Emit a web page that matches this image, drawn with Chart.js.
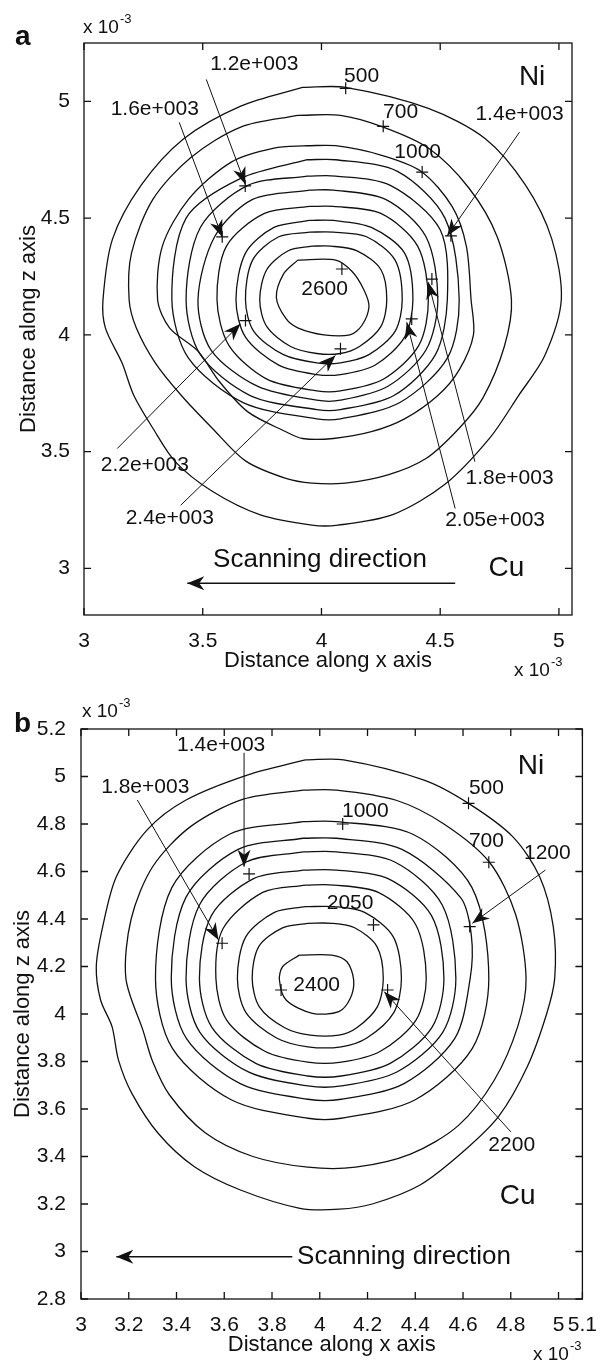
<!DOCTYPE html>
<html>
<head>
<meta charset="utf-8">
<script src="https://cdn.jsdelivr.net/npm/chart.js@4.4.0/dist/chart.umd.min.js"></script>
<style>
  html, body { margin: 0; padding: 0; background: #fff; }
  #wrap { position: relative; width: 603px; height: 1363px; }
  canvas { position: absolute; left: 0; }
  #ca { top: 0; }
  #cb { top: 680px; }
</style>
</head>
<body>
<div id="wrap">
  <canvas id="ca" width="603" height="680"></canvas>
  <canvas id="cb" width="603" height="683"></canvas>
</div>
<script>
// ---------- panel a (values in units of 1e-3) ----------
const levelsA = [500, 700, 1000, 1200, 1400, 1600, 1800, 2050, 2200, 2400, 2600];
const xTicksA = [3, 3.5, 4, 4.5, 5];
const yTicksA = [3, 3.5, 4, 4.5, 5];

const a500 = [[3.92,5.06],[4.10,5.06],[4.45,4.97],[4.69,4.84],[4.86,4.64],[4.97,4.41],[5.01,4.15],[4.94,3.91],[4.83,3.74],[4.71,3.56],[4.52,3.36],[4.30,3.23],[4.07,3.185],[3.96,3.185],[3.74,3.23],[3.54,3.33],[3.385,3.456],[3.29,3.60],[3.21,3.74],[3.16,3.88],[3.09,4.03],[3.08,4.15],[3.12,4.41],[3.24,4.64],[3.42,4.84],[3.66,4.98],[3.92,5.06]];
const a700 = [[3.90,4.94],[4.08,4.94],[4.26,4.89],[4.45,4.80],[4.62,4.63],[4.74,4.42],[4.80,4.15],[4.77,3.95],[4.68,3.73],[4.58,3.60],[4.44,3.47],[4.28,3.40],[4.10,3.365],[3.96,3.365],[3.85,3.385],[3.68,3.46],[3.54,3.60],[3.41,3.74],[3.30,3.88],[3.22,4.03],[3.19,4.15],[3.20,4.35],[3.29,4.58],[3.45,4.76],[3.66,4.89],[3.90,4.94]];
const a1000 = [[3.94,4.81],[4.06,4.81],[4.25,4.77],[4.42,4.70],[4.55,4.55],[4.61,4.38],[4.63,4.15],[4.64,4.00],[4.58,3.85],[4.49,3.74],[4.35,3.64],[4.21,3.585],[4.05,3.556],[3.92,3.556],[3.85,3.585],[3.69,3.67],[3.57,3.80],[3.48,3.93],[3.36,4.03],[3.31,4.15],[3.33,4.38],[3.44,4.58],[3.62,4.74],[3.80,4.80],[3.94,4.81]];
const a1200 = [[3.94,4.75],[4.06,4.75],[4.32,4.70],[4.52,4.50],[4.58,4.15],[4.53,3.90],[4.33,3.71],[4.08,3.64],[3.98,3.64],[3.67,3.71],[3.44,3.90],[3.37,4.15],[3.43,4.50],[3.66,4.67],[3.94,4.75]];
const a1400 = [[3.94,4.68],[4.06,4.68],[4.29,4.64],[4.50,4.45],[4.53,4.15],[4.48,3.915],[4.305,3.74],[4.08,3.68],[3.98,3.68],[3.70,3.74],[3.49,3.915],[3.43,4.15],[3.49,4.46],[3.69,4.64],[3.94,4.68]];
const a1600 = [[3.95,4.62],[4.05,4.62],[4.27,4.58],[4.44,4.42],[4.49,4.15],[4.44,3.935],[4.28,3.78],[4.08,3.72],[3.98,3.72],[3.73,3.78],[3.535,3.935],[3.48,4.15],[3.55,4.42],[3.71,4.58],[3.95,4.62]];
const a1800 = [[3.95,4.55],[4.05,4.55],[4.25,4.52],[4.405,4.38],[4.45,4.15],[4.41,3.955],[4.26,3.81],[4.08,3.76],[3.98,3.76],[3.77,3.81],[3.61,3.955],[3.56,4.15],[3.60,4.38],[3.76,4.52],[3.95,4.55]];
const a2050 = [[3.95,4.49],[4.05,4.49],[4.21,4.46],[4.35,4.35],[4.385,4.15],[4.35,3.99],[4.225,3.87],[4.08,3.83],[3.98,3.83],[3.82,3.87],[3.68,3.99],[3.64,4.15],[3.68,4.35],[3.80,4.46],[3.95,4.49]];
const a2200 = [[3.95,4.44],[4.05,4.44],[4.19,4.42],[4.31,4.32],[4.34,4.15],[4.31,4.015],[4.20,3.915],[4.08,3.88],[3.98,3.88],[3.84,3.915],[3.715,4.015],[3.68,4.15],[3.71,4.32],[3.82,4.42],[3.95,4.44]];
const a2400 = [[3.96,4.38],[4.04,4.38],[4.15,4.36],[4.25,4.28],[4.275,4.15],[4.25,4.035],[4.16,3.95],[4.08,3.92],[3.98,3.92],[3.87,3.95],[3.77,4.035],[3.74,4.15],[3.77,4.28],[3.86,4.36],[3.96,4.38]];
const a2600 = [[3.90,4.32],[4.06,4.32],[4.13,4.27],[4.18,4.19],[4.20,4.12],[4.17,4.04],[4.12,4.00],[4.01,4.00],[3.90,4.03],[3.85,4.07],[3.81,4.16],[3.84,4.26],[3.90,4.32]];

const marksA = [[4.102,5.056],[4.26,4.893],[4.424,4.697],[4.086,4.282],[3.679,4.638],[3.582,4.42],[4.545,4.424],[4.465,4.239],[4.38,4.068],[3.68,4.061],[4.08,3.94]];

const notesA = [
  { text: '1.2e+003', at: [3.717, 5.158], from: [3.515, 5.094], to: [3.679, 4.645] },
  { text: '1.6e+003', at: [3.298, 4.966], from: [3.401, 4.910], to: [3.582, 4.419] },
  { text: '1.4e+003', at: [4.834, 4.944], from: [4.834, 4.868], to: [4.529, 4.423] },
  { text: '1.8e+003', at: [4.792, 3.385], from: [4.646, 3.457], to: [4.450, 4.225] },
  { text: '2.05e+003', at: [4.731, 3.206], from: [4.563, 3.256], to: [4.359, 4.054] },
  { text: '2.2e+003', at: [3.256, 3.441], from: [3.140, 3.513], to: [3.659, 4.047] },
  { text: '2.4e+003', at: [3.361, 3.214], from: [3.407, 3.270], to: [4.059, 3.912] },
  { text: '500', at: [4.169, 5.107] },
  { text: '700', at: [4.333, 4.953] },
  { text: '1000', at: [4.405, 4.782] },
  { text: '2600', at: [4.013, 4.197] }
];

// ---------- panel b ----------
const levelsB = [500, 700, 1000, 1200, 1400, 1600, 1800, 2050, 2200, 2400];
const xTicksB = [3, 3.2, 3.4, 3.6, 3.8, 4, 4.2, 4.4, 4.6, 4.8, 5, 5.1];
const yTicksB = [2.8, 3, 3.2, 3.4, 3.6, 3.8, 4, 4.2, 4.4, 4.6, 4.8, 5, 5.2];

const b500 = [[3.94,5.07],[4.10,5.07],[4.437,4.985],[4.623,4.887],[4.808,4.747],[4.921,4.578],[4.978,4.368],[4.984,4.15],[4.95,4.0],[4.87,3.78],[4.75,3.57],[4.60,3.42],[4.42,3.28],[4.22,3.20],[4.082,3.178],[3.917,3.182],[3.668,3.259],[3.475,3.357],[3.323,3.498],[3.213,3.666],[3.157,3.806],[3.13,3.947],[3.082,4.059],[3.064,4.20],[3.091,4.368],[3.148,4.578],[3.277,4.775],[3.438,4.90],[3.696,5.006],[3.94,5.07]];
const b700 = [[3.93,4.943],[4.07,4.943],[4.32,4.90],[4.52,4.80],[4.71,4.64],[4.82,4.42],[4.864,4.15],[4.83,3.95],[4.73,3.72],[4.58,3.53],[4.38,3.41],[4.15,3.355],[3.95,3.355],[3.72,3.40],[3.52,3.50],[3.37,3.66],[3.30,3.80],[3.26,3.93],[3.188,4.15],[3.21,4.40],[3.30,4.62],[3.46,4.79],[3.68,4.905],[3.93,4.943]];
const b1000 = [[3.93,4.81],[4.07,4.81],[4.39,4.757],[4.637,4.533],[4.708,4.15],[4.639,3.855],[4.398,3.638],[4.09,3.561],[3.95,3.561],[3.631,3.638],[3.383,3.855],[3.312,4.15],[3.381,4.533],[3.622,4.757],[3.93,4.81]];
const b1200 = [[3.93,4.74],[4.07,4.74],[4.344,4.693],[4.59,4.49],[4.635,4.33],[4.63,4.15],[4.565,3.896],[4.353,3.707],[4.09,3.641],[3.95,3.641],[3.667,3.707],[3.442,3.896],[3.378,4.15],[3.44,4.492],[3.658,4.693],[3.93,4.74]];
const b1400 = [[3.93,4.683],[4.07,4.683],[4.314,4.64],[4.513,4.459],[4.57,4.15],[4.515,3.923],[4.323,3.756],[4.09,3.697],[3.95,3.697],[3.701,3.756],[3.498,3.923],[3.44,4.15],[3.496,4.459],[3.692,4.64],[3.93,4.683]];
const b1600 = [[3.93,4.606],[4.07,4.606],[4.286,4.57],[4.468,4.414],[4.52,4.15],[4.47,3.944],[4.295,3.792],[4.09,3.739],[3.95,3.739],[3.732,3.792],[3.548,3.944],[3.496,4.15],[3.546,4.414],[3.723,4.57],[3.93,4.606]];
const b1800 = [[3.94,4.543],[4.06,4.543],[4.245,4.512],[4.401,4.378],[4.446,4.15],[4.403,3.974],[4.254,3.843],[4.09,3.797],[3.95,3.797],[3.77,3.843],[3.61,3.974],[3.565,4.15],[3.595,4.36],[3.761,4.512],[3.94,4.543]];
const b2050 = [[3.94,4.452],[4.06,4.452],[4.188,4.428],[4.308,4.325],[4.342,4.15],[4.31,4.006],[4.197,3.899],[4.09,3.862],[3.95,3.862],[3.819,3.899],[3.691,4.006],[3.655,4.15],[3.69,4.325],[3.81,4.428],[3.94,4.452]];
const b2200 = [[3.95,4.382],[4.05,4.382],[4.146,4.363],[4.239,4.285],[4.266,4.15],[4.241,4.03],[4.155,3.942],[4.08,3.911],[3.96,3.911],[3.853,3.942],[3.747,4.03],[3.717,4.15],[3.745,4.285],[3.844,4.363],[3.95,4.382]];
const b2400 = [[3.914,4.248],[4.05,4.248],[4.114,4.22],[4.142,4.143],[4.128,4.066],[4.08,4.01],[3.969,4.003],[3.859,4.059],[3.831,4.143],[3.845,4.20],[3.914,4.248]];

const marksB = [[4.623,4.887],[4.708,4.639],[4.096,4.80],[4.225,4.375],[3.838,4.101],[3.704,4.59],[3.591,4.298],[4.628,4.368],[4.284,4.101]];

const notesB = [
  { text: '1.4e+003', at: [3.587, 5.133], from: [3.683, 5.10], to: [3.683, 4.62] },
  { text: '1.8e+003', at: [3.269, 4.957], from: [3.236, 4.901], to: [3.576, 4.312] },
  { text: '1200', at: [4.953, 4.679], from: [4.945, 4.606], to: [4.639, 4.382] },
  { text: '2200', at: [4.804, 3.448], from: [4.80, 3.504], to: [4.27, 4.094] },
  { text: '500', at: [4.698, 4.952] },
  { text: '700', at: [4.698, 4.726] },
  { text: '1000', at: [4.191, 4.852] },
  { text: '2050', at: [4.127, 4.467] },
  { text: '2400', at: [3.987, 4.122] }
];

// ---------- drawing ----------
const FONT = '"Liberation Sans", Arial, Helvetica, sans-serif';
const INK = '#111';

function toPts(arr) { return arr.map(p => ({ x: p[0], y: p[1] })); }

function arrowHead(ctx, x0, y0, x1, y1, len, half) {
  const a = Math.atan2(y1 - y0, x1 - x0);
  const c = Math.cos(a), s = Math.sin(a);
  ctx.beginPath();
  ctx.moveTo(x1, y1);
  ctx.lineTo(x1 - len * c + half * s, y1 - len * s - half * c);
  ctx.lineTo(x1 - len * 0.7 * c, y1 - len * 0.7 * s);
  ctx.lineTo(x1 - len * c - half * s, y1 - len * s + half * c);
  ctx.closePath();
  ctx.fill();
}

function drawExp(ctx, x, y) {
  ctx.textAlign = 'left';
  ctx.textBaseline = 'alphabetic';
  ctx.font = '19px ' + FONT;
  ctx.fillText('x 10', x, y);
  const w = ctx.measureText('x 10').width;
  ctx.font = '13px ' + FONT;
  ctx.fillText('-3', x + w + 1, y - 10);
}

function figurePlugin(o) {
  return {
    id: 'figure' + o.id,
    afterDraw(chart) {
      const { ctx, chartArea: ca, scales: { x, y } } = chart;
      const X = v => x.getPixelForValue(v);
      const Y = v => y.getPixelForValue(v);
      ctx.save();
      ctx.strokeStyle = INK;
      ctx.fillStyle = INK;

      // frame with inward ticks on all sides
      ctx.lineWidth = 1.3;
      ctx.strokeRect(ca.left, ca.top, ca.right - ca.left, ca.bottom - ca.top);
      ctx.beginPath();
      x.ticks.forEach(t => {
        const px = X(t.value);
        ctx.moveTo(px, ca.bottom); ctx.lineTo(px, ca.bottom - 7);
        ctx.moveTo(px, ca.top); ctx.lineTo(px, ca.top + 7);
      });
      y.ticks.forEach(t => {
        const py = Y(t.value);
        ctx.moveTo(ca.left, py); ctx.lineTo(ca.left + 7, py);
        ctx.moveTo(ca.right, py); ctx.lineTo(ca.right - 7, py);
      });
      ctx.stroke();

      // contour labels with pointer arrows
      ctx.lineWidth = 1;
      ctx.font = '21px ' + FONT;
      ctx.textAlign = 'center';
      ctx.textBaseline = 'middle';
      o.notes.forEach(n => {
        if (n.from) {
          const x0 = X(n.from[0]), y0 = Y(n.from[1]);
          const x1 = X(n.to[0]), y1 = Y(n.to[1]);
          ctx.beginPath(); ctx.moveTo(x0, y0); ctx.lineTo(x1, y1); ctx.stroke();
          arrowHead(ctx, x0, y0, x1, y1, 17, 6.5);
        }
        ctx.fillText(n.text, X(n.at[0]), Y(n.at[1]));
      });

      // Ni / Cu
      ctx.font = '28px ' + FONT;
      ctx.fillText('Ni', X(o.ni[0]), Y(o.ni[1]));
      ctx.fillText('Cu', X(o.cu[0]), Y(o.cu[1]));

      // scanning direction
      ctx.font = '26px ' + FONT;
      ctx.fillText('Scanning direction', X(o.scanText[0]), Y(o.scanText[1]));
      const sx0 = X(o.scan[0][0]), sy0 = Y(o.scan[0][1]);
      const sx1 = X(o.scan[1][0]), sy1 = Y(o.scan[1][1]);
      ctx.lineWidth = 1.3;
      ctx.beginPath(); ctx.moveTo(sx0, sy0); ctx.lineTo(sx1, sy1); ctx.stroke();
      arrowHead(ctx, sx0, sy0, sx1, sy1, 17, 7);

      // exponent markers and panel letter
      drawExp(ctx, o.expTop[0], o.expTop[1]);
      drawExp(ctx, o.expBottom[0], o.expBottom[1]);
      ctx.font = 'bold 28px ' + FONT;
      ctx.textAlign = 'left';
      ctx.textBaseline = 'alphabetic';
      ctx.fillText(o.letter, o.letterAt[0], o.letterAt[1]);
      ctx.restore();
    }
  };
}

function buildChart(canvasId, o) {
  const tickFont = { family: FONT, size: 21 };
  const titleFont = { family: FONT, size: 22 };
  return new Chart(document.getElementById(canvasId), {
    type: 'scatter',
    data: {
      datasets: [
        ...o.contours.map((c, i) => ({
          label: String(o.levels[i]),
          data: toPts(c),
          showLine: true,
          pointRadius: 0,
          borderColor: INK,
          borderWidth: 1.3,
          tension: 0.3
        })),
        {
          label: 'marks',
          data: toPts(o.marks),
          showLine: false,
          pointStyle: 'cross',
          pointRadius: 6,
          borderColor: INK,
          borderWidth: 1.2
        }
      ]
    },
    options: {
      responsive: false,
      animation: false,
      events: [],
      layout: { padding: o.pad },
      plugins: { legend: { display: false }, tooltip: { enabled: false } },
      scales: {
        x: {
          type: 'linear', min: o.xMin, max: o.xMax,
          grid: { display: false }, border: { display: false },
          afterBuildTicks: s => { s.ticks = o.xTicks.map(v => ({ value: v })); },
          afterFit: s => { s.height = o.xH; },
          ticks: { autoSkip: false, maxRotation: 0, padding: 6, color: INK, font: tickFont, callback: v => String(v) },
          title: { display: true, text: 'Distance along x axis', color: INK, font: titleFont, padding: { top: 0, bottom: o.xTitlePad } }
        },
        y: {
          type: 'linear', min: o.yMin, max: o.yMax,
          grid: { display: false }, border: { display: false },
          afterBuildTicks: s => { s.ticks = o.yTicks.map(v => ({ value: v })); },
          afterFit: s => { s.width = o.yW; },
          ticks: { autoSkip: false, padding: o.yTickPad, color: INK, font: tickFont, callback: v => String(v) },
          title: { display: true, text: 'Distance along z axis', color: INK, font: titleFont, padding: { top: o.yTitlePad, bottom: 0 } }
        }
      }
    },
    plugins: [figurePlugin(o)]
  });
}

buildChart('ca', {
  id: 'a', letter: 'a', letterAt: [15, 45],
  levels: levelsA,
  contours: [a500, a700, a1000, a1200, a1400, a1600, a1800, a2050, a2200, a2400, a2600],
  marks: marksA, notes: notesA,
  xTicks: xTicksA, yTicks: yTicksA,
  xMin: 3, xMax: 5.055, yMin: 2.8, yMax: 5.25,
  pad: { top: 43, right: 31, bottom: 0, left: 0 },
  xH: 65, xTitlePad: 6, yW: 84, yTickPad: 6, yTitlePad: 16,
  ni: [4.887, 5.103], cu: [4.779, 3.0],
  scanText: [3.994, 3.035], scan: [[4.563, 2.936], [3.435, 2.936]],
  expTop: [83, 33], expBottom: [514, 676]
});

buildChart('cb', {
  id: 'b', letter: 'b', letterAt: [14, 52],
  levels: levelsB,
  contours: [b500, b700, b1000, b1200, b1400, b1600, b1800, b2050, b2200, b2400],
  marks: marksB, notes: notesB,
  xTicks: xTicksB, yTicks: yTicksB,
  xMin: 3, xMax: 5.1, yMin: 2.8, yMax: 5.2,
  pad: { top: 49, right: 15, bottom: 0, left: 0 },
  xH: 64, xTitlePad: 5, yW: 81, yTickPad: 7, yTitlePad: 10,
  ni: [4.885, 5.041], cu: [4.829, 3.231],
  scanText: [4.353, 2.978], scan: [[3.885, 2.978], [3.148, 2.978]],
  expTop: [82, 37], expBottom: [533, 680]
});
</script>
</body>
</html>
